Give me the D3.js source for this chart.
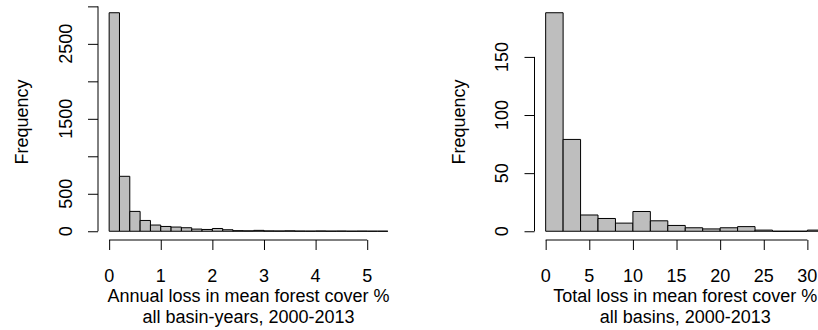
<!DOCTYPE html>
<html>
<head>
<meta charset="utf-8">
<script src="https://cdn.jsdelivr.net/npm/d3@7"></script>
<style>
  html, body { margin: 0; padding: 0; background: #fff; }
  svg text { font-family: "Liberation Sans", Arial, Helvetica, sans-serif; fill: #000; }
</style>
</head>
<body>
<svg id="chart" width="818" height="330"></svg>
<script>
// Annual loss per basin-year: histogram bins of width 0.2
const annualBinStarts = [0.0, 0.2, 0.4, 0.6, 0.8, 1.0, 1.2, 1.4, 1.6, 1.8, 2.0, 2.2, 2.4, 2.6,
                         2.8, 3.0, 3.2, 3.4, 3.6, 3.8, 4.0, 4.2, 4.4, 4.6, 4.8, 5.0, 5.2];
const annualCounts = [2915, 733, 265, 144, 83, 64, 56, 47, 29, 24, 37, 20, 8, 6,
                      12, 5, 4, 6, 3, 2, 4, 2, 3, 1, 2, 1, 1];
const annualBinWidth = 0.2;
const annualXTicks = [0, 1, 2, 3, 4, 5];
const annualYTicks = [0, 500, 1000, 1500, 2000, 2500, 3000];
const annualYLabels = [0, 500, 1500, 2500];

// Total loss per basin: histogram bins of width 2
const totalBinStarts = [0, 2, 4, 6, 8, 10, 12, 14, 16, 18, 20, 22, 24, 26, 28, 30];
const totalCounts = [188, 79, 14, 11, 7, 17, 9, 5, 3, 2, 3, 4, 1, 0, 0, 1];
const totalBinWidth = 2;
const totalXTicks = [0, 5, 10, 15, 20, 25, 30];
const totalYTicks = [0, 50, 100, 150];
const totalYLabels = [0, 50, 100, 150];

const svg = d3.select("#chart");
const FONT = 18;

// Pad a [min, max] range by 4% on each side
function padded(lo, hi) {
  const d = (hi - lo) * 0.04;
  return [lo - d, hi + d];
}

function histogram(opts) {
  const { left, right, top, bottom, starts, counts, width, xTicks, yTicks, yLabels, xlab } = opts;
  const g = svg.append("g");

  const xMax = starts[starts.length - 1] + width;
  const x = d3.scaleLinear().domain(padded(0, xMax)).range([left, right]);
  const y = d3.scaleLinear().domain(padded(0, d3.max(counts))).range([bottom, top]);

  // bars as closed paths, so empty bins still leave their outline on the baseline
  g.selectAll("path.bar")
    .data(starts.map((s, i) => ({ s, c: counts[i] })))
    .join("path")
    .attr("class", "bar")
    .attr("d", d => {
      const x0 = x(d.s), x1 = x(d.s + width), y0 = y(0), y1 = y(d.c);
      return `M${x0},${y0}V${y1}H${x1}V${y0}Z`;
    })
    .attr("fill", "#bebebe")
    .attr("stroke", "#000")
    .attr("stroke-width", 1);

  // x axis
  const xAxis = d3.axisBottom(x).tickValues(xTicks).tickSize(10).tickFormat("");
  const gx = g.append("g").attr("transform", `translate(0,${bottom})`).call(xAxis);
  gx.select(".domain").attr("d", `M${x(xTicks[0])},0H${x(xTicks[xTicks.length - 1])}`);
  gx.selectAll("line, path").attr("stroke", "#000").attr("stroke-width", 1);

  g.selectAll("text.xt")
    .data(xTicks)
    .join("text")
    .attr("class", "xt")
    .attr("x", d => x(d))
    .attr("y", 282)
    .attr("text-anchor", "middle")
    .attr("font-size", FONT)
    .text(d => d);

  // y axis
  const yAxis = d3.axisLeft(y).tickValues(yTicks).tickSize(10).tickFormat("");
  const gy = g.append("g").attr("transform", `translate(${left},0)`).call(yAxis);
  gy.select(".domain").attr("d", `M0,${y(yTicks[0])}V${y(yTicks[yTicks.length - 1])}`);
  gy.selectAll("line, path").attr("stroke", "#000").attr("stroke-width", 1);

  g.selectAll("text.yt")
    .data(yLabels)
    .join("text")
    .attr("class", "yt")
    .attr("transform", d => `translate(${left - 26.5},${y(d)}) rotate(-90)`)
    .attr("text-anchor", "middle")
    .attr("font-size", FONT)
    .text(d => d);

  // axis titles
  const cx = (left + right) / 2;
  g.append("text")
    .attr("x", cx).attr("y", 301.5)
    .attr("text-anchor", "middle").attr("font-size", FONT)
    .text(xlab[0]);
  g.append("text")
    .attr("x", cx).attr("y", 323)
    .attr("text-anchor", "middle").attr("font-size", FONT)
    .text(xlab[1]);
  g.append("text")
    .attr("transform", `translate(${left - 70},${122}) rotate(-90)`)
    .attr("text-anchor", "middle").attr("font-size", FONT)
    .text("Frequency");
}

histogram({
  left: 98, right: 399, top: 4, bottom: 240,
  starts: annualBinStarts, counts: annualCounts, width: annualBinWidth,
  xTicks: annualXTicks, yTicks: annualYTicks, yLabels: annualYLabels,
  xlab: ["Annual loss in mean forest cover %", "all basin-years, 2000-2013"]
});

histogram({
  left: 534.5, right: 836, top: 4, bottom: 240,
  starts: totalBinStarts, counts: totalCounts, width: totalBinWidth,
  xTicks: totalXTicks, yTicks: totalYTicks, yLabels: totalYLabels,
  xlab: ["Total loss in mean forest cover %", "all basins, 2000-2013"]
});
</script>
</body>
</html>
